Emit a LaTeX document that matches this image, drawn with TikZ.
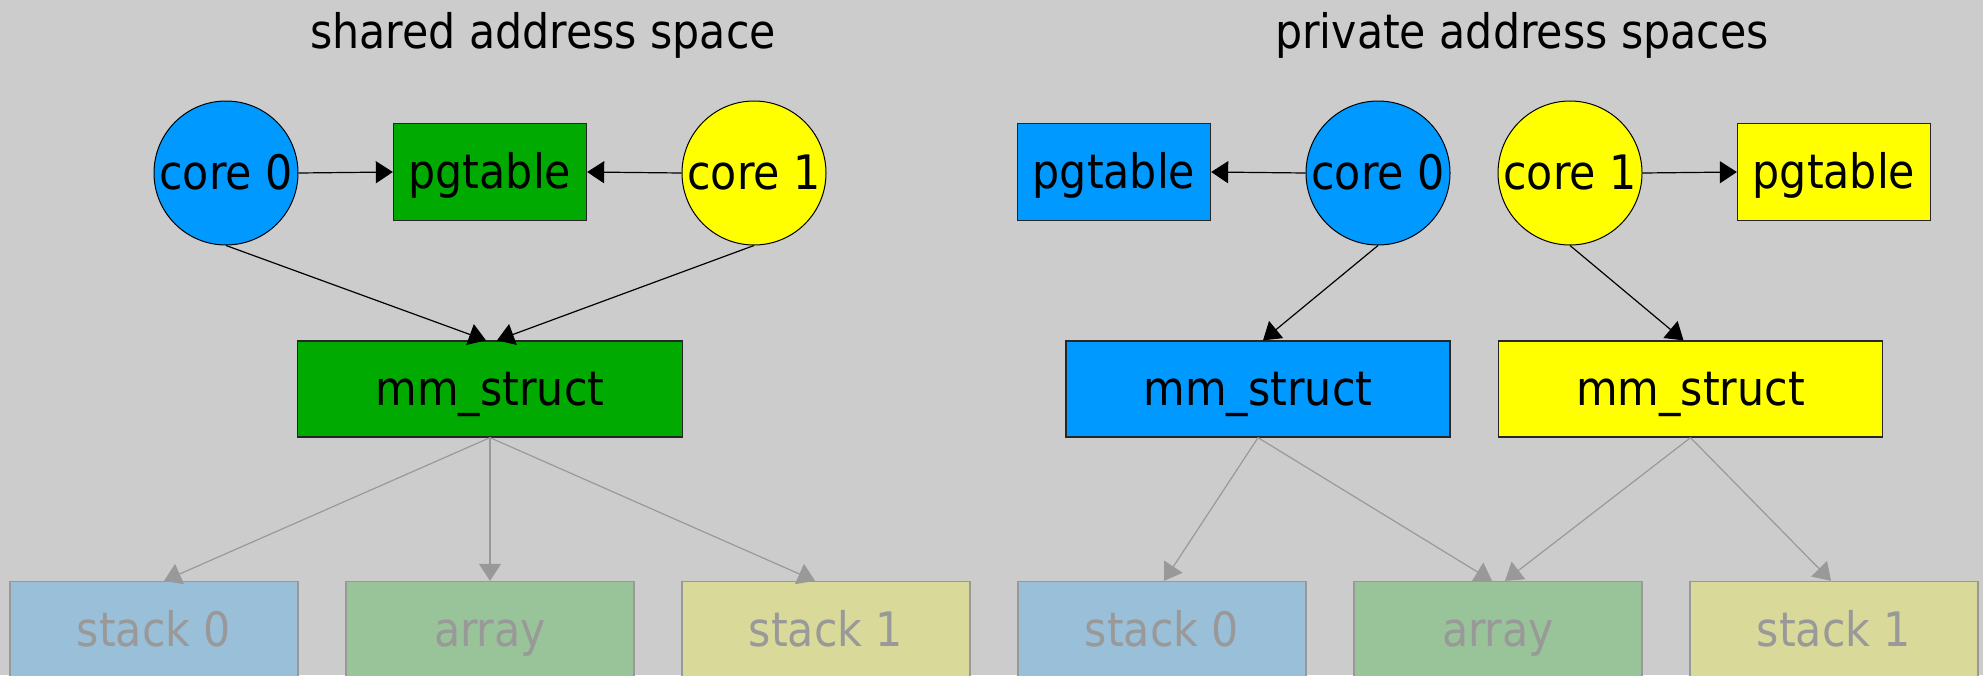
\documentclass[tikz,border=0pt]{standalone}
\usepackage{fontspec}
\setmainfont{DejaVu Sans Condensed}
\usetikzlibrary{arrows.meta}
\definecolor{bg}{HTML}{CCCCCC}
\definecolor{cblue}{HTML}{0099FF}
\definecolor{cgreen}{HTML}{00AA00}
\definecolor{cyellow}{HTML}{FFFF00}
\definecolor{fblue}{HTML}{99BFD9}
\definecolor{fgreen}{HTML}{99C399}
\definecolor{fyellow}{HTML}{D9D999}
\definecolor{fade}{HTML}{999999}
\tikzset{
  lbl/.style={font=\fontsize{47.5}{56}\selectfont, text height=40pt, text depth=8pt, inner sep=0pt},
  corenode/.style={lbl, circle, draw=black, line width=1pt, minimum size=144pt},
  boxnode/.style={lbl, rectangle, draw=black!85, line width=1.3pt, minimum height=96pt},
  fadebox/.style={lbl, rectangle, draw=fade, line width=1.3pt, minimum width=288pt, minimum height=110pt, text height=30pt, text depth=10.4pt, text=fade},
  title/.style={font=\fontsize{47.5}{56}\selectfont, anchor=base, inner sep=0pt},
  edge/.style={-{Triangle[length=17pt,width=22pt]}, line width=1.2pt, black},
  fadeedge/.style={-{Triangle[length=17pt,width=22pt]}, line width=1.2pt, fade},
}
\begin{document}
\begin{tikzpicture}[x=1pt,y=-1pt]
\fill[bg] (0,0) rectangle (1983,675);
\useasboundingbox (0,0) rectangle (1983,675);

\node[title] (t1) at (543,48) {shared address space};
\node[title] (t2) at (1522,48) {private address spaces};

% shared
\node[corenode, fill=cblue] (c0L) at (226,173) {core 0};
\node[boxnode, fill=cgreen, minimum width=193pt, minimum height=97pt] (ptL) at (490,172) {pgtable};
\node[corenode, fill=cyellow] (c1L) at (754,173) {core 1};
\node[boxnode, fill=cgreen, minimum width=385pt] (mmL) at (490,389) {mm\_struct};
\node[fadebox, fill=fblue] (s0L) at (154,636.5) {stack 0};
\node[fadebox, fill=fgreen] (arL) at (490,636.5) {array};
\node[fadebox, fill=fyellow] (s1L) at (826,636.5) {stack 1};

% private
\node[boxnode, fill=cblue, minimum width=193pt, minimum height=97pt] (ptR1) at (1114,172) {pgtable};
\node[corenode, fill=cblue] (c0R) at (1378,173) {core 0};
\node[corenode, fill=cyellow] (c1R) at (1570,173) {core 1};
\node[boxnode, fill=cyellow, minimum width=193pt, minimum height=97pt] (ptR2) at (1834,172) {pgtable};
\node[boxnode, fill=cblue, minimum width=384pt] (mmR1) at (1258,389) {mm\_struct};
\node[boxnode, fill=cyellow, minimum width=384pt] (mmR2) at (1690.5,389) {mm\_struct};
\node[fadebox, fill=fblue] (s0R) at (1162,636.5) {stack 0};
\node[fadebox, fill=fgreen] (arR) at (1498,636.5) {array};
\node[fadebox, fill=fyellow] (s1R) at (1834,636.5) {stack 1};

% shared edges
\draw[edge] (c0L.east) -- (ptL.west);
\draw[edge] (c1L.west) -- (ptL.east);
\draw[edge] (c0L.south) -- ([xshift=-4pt]mmL.north);
\draw[edge] (c1L.south) -- ([xshift=7pt]mmL.north);
\draw[fadeedge] (mmL.south) -- ([xshift=10pt]s0L.north);
\draw[fadeedge] (mmL.south) -- (arL.north);
\draw[fadeedge] (mmL.south) -- ([xshift=-11pt]s1L.north);

% private edges
\draw[edge] (c0R.west) -- (ptR1.east);
\draw[edge] (c1R.east) -- (ptR2.west);
\draw[edge] (c0R.south) -- ([xshift=5pt]mmR1.north);
\draw[edge] (c1R.south) -- ([xshift=-7pt]mmR2.north);
\draw[fadeedge] (mmR1.south) -- ([xshift=2pt]s0R.north);
\draw[fadeedge] (mmR1.south) -- ([xshift=-6pt]arR.north);
\draw[fadeedge] (mmR2.south) -- ([xshift=7pt]arR.north);
\draw[fadeedge] (mmR2.south) -- ([xshift=-3pt]s1R.north);
\end{tikzpicture}
\end{document}
